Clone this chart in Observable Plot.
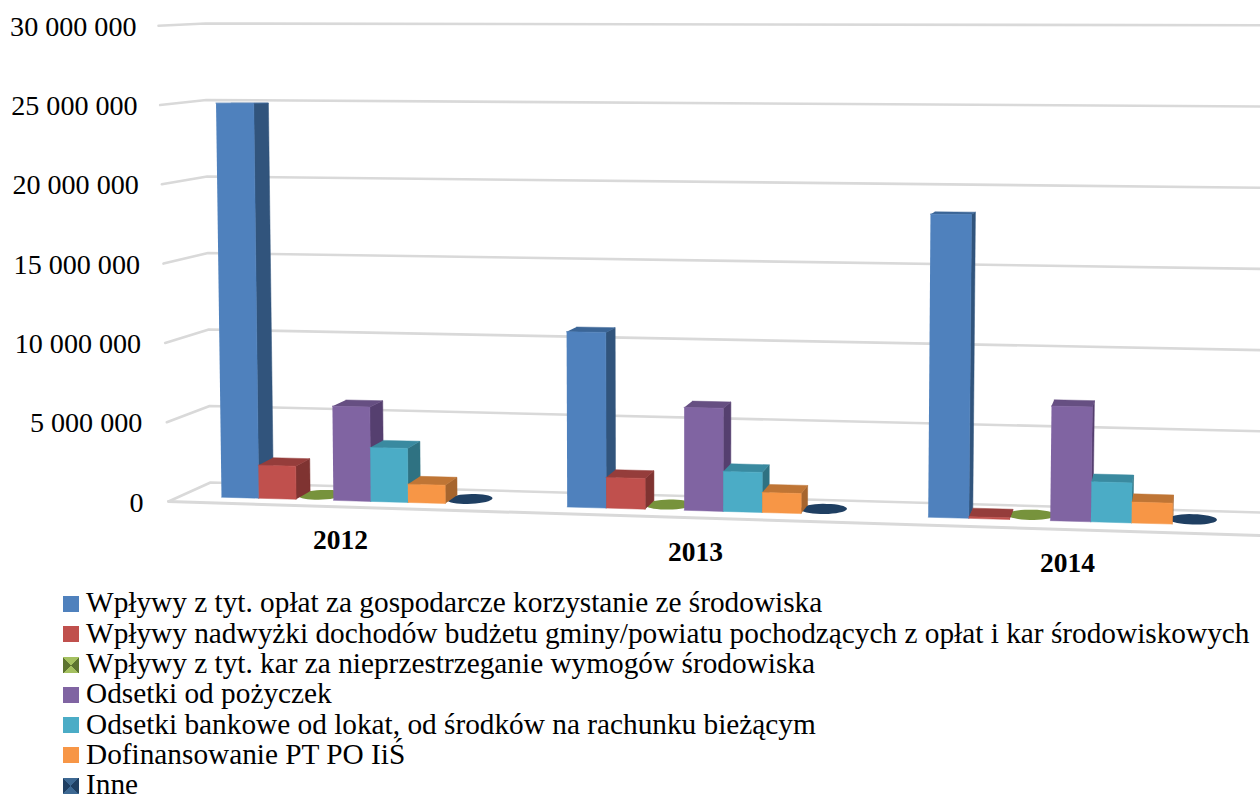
<!DOCTYPE html>
<html lang="pl">
<head>
<meta charset="utf-8">
<script src="https://cdn.jsdelivr.net/npm/d3@7"></script>
<script src="https://cdn.jsdelivr.net/npm/@observablehq/plot@0.6"></script>
<style>
html,body{margin:0;padding:0;background:#fff;overflow:hidden}
body{width:1260px;height:794px;font-family:"Liberation Serif",serif;color:#000}
svg{display:block}
#legend{position:relative;width:1260px;height:209px;overflow:hidden}
.row{position:absolute;left:0;height:30px;font-size:29.3px;white-space:nowrap}
.row span{position:absolute;left:86px;top:5px;line-height:20px;height:20px}
.row i{position:absolute;left:63px;top:8.5px;width:16px;height:16px;display:block}
</style>
</head>
<body>
<div id="chart"></div>
<div id="legend"></div>
<script>
const years = ["2012", "2013", "2014"];
const seriesNames = [
  "Wpływy z tyt. opłat za gospodarcze korzystanie ze środowiska",
  "Wpływy nadwyżki dochodów budżetu gminy/powiatu pochodzących z opłat i kar środowiskowych",
  "Wpływy z tyt. kar za nieprzestrzeganie wymogów środowiska",
  "Odsetki od pożyczek",
  "Odsetki bankowe od lokat, od środków na rachunku bieżącym",
  "Dofinansowanie PT PO IiŚ",
  "Inne"
];
const oplaty    = [25100000, 10900000, 18400000];
const nadwyzki  = [2100000, 1900000, 100000];
const kary      = [60000, 60000, 60000];
const pozyczki  = [5950000, 6350000, 6900000];
const lokaty    = [3400000, 2460000, 2400000];
const dofin     = [1150000, 1230000, 1250000];
const inne      = [60000, 60000, 60000];
const seriesValues = [oplaty, nadwyzki, kary, pozyczki, lokaty, dofin, inne];
const frontColors = ["#4f81bd", "#c0504d", "#77933c", "#8064a2", "#4bacc6", "#f79646", "#1f3f62"];
const sideColors  = ["#31547c", "#7f3331", "#5c7330", "#553f6f", "#2f7282", "#a6652e", "#1f3f62"];
const topColors   = ["#3b6596", "#953d3b", "#77933c", "#664f82", "#3a8aa0", "#bf7535", "#1f3f62"];
const blobSeries = [2, 6];
const tickValues = [0, 5000000, 10000000, 15000000, 20000000, 25000000, 30000000];
const tickFormat = v => d3.format(",")(v).replace(/,/g, " ");

// The 3-D view of the original: a perspective projection of the value axis.
const yRange = [502, 26], yMax = 30000000;
const unit = py => (yRange[0] - py) / (yRange[0] - yRange[1]) * yMax;
const clusterStart = g => 221 + 338.05 * g + 7.65 * g * g;
const slotWidth = g => 37.3 + 1.69 * g;
const baseY = x => 496.7 + 0.0283 * (x - 221);
const pxPerValue = x => (15.7 + 0.00109 * (x - 221)) / 1e6;
const lean = (x, h) => x + (x - 679) * 3.03e-5 * h;
const depthX = x => (1230 - x) * 0.015;
const depthY = y => (y - 100) * 0.0205;
const ellipseSteps = d3.range(0, 2 * Math.PI, Math.PI / 18);

const faces = [], blobs = [];
years.forEach((year, g) => {
  seriesValues.forEach((vals, k) => {
    const v = vals[g];
    const x0 = clusterStart(g) + slotWidth(g) * k, x1 = x0 + slotWidth(g);
    const y0 = baseY(x0), y1 = baseY(x1);
    const h0 = pxPerValue(x0) * v, h1 = pxPerValue(x1) * v;
    const bl = [x0, y0], br = [x1, y1];
    const tl = [lean(x0, h0), y0 - h0], tr = [lean(x1, h1), y1 - h1];
    const back = ([x, y]) => [x + depthX(x), y - depthY(y)];
    const id = `${year}-${k}`;
    const poly = (name, fill, pts, into) => pts.forEach(([x, y]) =>
      into.push({id: `${id}-${name}`, fill, x, y: unit(y)}));
    if (blobSeries.includes(k)) {
      const btl = back(tl), btr = back(tr);
      const cx = (tl[0] + tr[0] + btl[0] + btr[0]) / 4, cy = (tl[1] + tr[1] + btl[1] + btr[1]) / 4;
      const ax = (tr[0] - tl[0]) / 2 * 1.18, ay = (tr[1] - tl[1]) / 2;
      const bx = (tl[0] - btl[0]) / 2, by = (tl[1] - btl[1]) / 2 * 1.2;
      poly("blob", frontColors[k], ellipseSteps.map(t =>
        [cx + Math.cos(t) * ax + Math.sin(t) * bx, cy + Math.cos(t) * ay + Math.sin(t) * by]), blobs);
    } else {
      poly("side", sideColors[k], [br, tr, back(tr), back(br)], faces);
      poly("top", topColors[k], [tl, tr, back(tr), back(tl)], faces);
      poly("front", frontColors[k], [bl, br, tr, tl], faces);
    }
  });
});

const gridLeft = v => [168 - 10 * v / yMax, 501 - 79.3 * v / 5e6];
const gridBack = v => [210 - 5 * v / yMax, 482 - 76.5 * v / 5e6];
const gridRight = v => [1260, 512 - 81.2 * v / 5e6];
const gridData = tickValues.flatMap(v => [gridLeft(v), gridBack(v), gridRight(v)]
  .map(([x, y]) => ({id: v, x, y: unit(y)})));
const floorFront = [[168, 501], [1260, 535]].map(([x, y]) => ({x, y: unit(y)}));

const tickLabels = tickValues.map(v => ({
  text: tickFormat(v), y: v, x: 143 - 7 * v / yMax
}));
const yearLabels = years.map((t, g) => ({
  text: t, x: [340, 695, 1067][g], y: unit([540, 552, 563][g])
}));

const plot = Plot.plot({
  width: 1260, height: 585,
  margin: 0, marginTop: 0, marginRight: 0, marginBottom: 0, marginLeft: 0,
  style: {background: "#fff", fontFamily: "Liberation Serif, serif", overflow: "hidden"},
  x: {domain: [0, 1260], range: [0, 1260], axis: null},
  y: {domain: [0, yMax], range: yRange, axis: null},
  color: {type: "identity"},
  marks: [
    Plot.line(gridData, {x: "x", y: "y", z: "id", stroke: "#d9d9d9", strokeWidth: 2.6}),
    Plot.line(floorFront, {x: "x", y: "y", stroke: "#d9d9d9", strokeWidth: 3}),
    Plot.line(blobs, {x: "x", y: "y", z: "id", fill: "fill", stroke: "none"}),
    Plot.line(faces, {x: "x", y: "y", z: "id", fill: "fill", stroke: "fill", strokeWidth: 0.5}),
    Plot.text(tickLabels, {x: "x", y: "y", text: "text", textAnchor: "end", fontSize: 28.1, fill: "#000"}),
    Plot.text(yearLabels, {x: "x", y: "y", text: "text", textAnchor: "middle", fontSize: 27.5, fontWeight: "bold", fill: "#000"})
  ]
});
document.getElementById("chart").append(plot);

const legend = document.getElementById("legend");
seriesNames.forEach((name, i) => {
  const row = document.createElement("div");
  row.className = "row";
  row.style.top = (2.4 + 30.3 * i) + "px";
  const sw = document.createElement("i");
  sw.style.background = frontColors[i];
  if (i === 2) sw.style.background = "conic-gradient(from 45deg,#5c7330 0 25%,#a4c060 25% 50%,#5c7330 50% 75%,#a4c060 75%)";
  if (i === 6) sw.style.background = "conic-gradient(from 45deg,#1f3f62 0 25%,#3d6892 25% 50%,#1f3f62 50% 75%,#3d6892 75%)";
  const label = document.createElement("span");
  label.textContent = name;
  row.append(sw, label);
  legend.append(row);
});
</script>
</body>
</html>
